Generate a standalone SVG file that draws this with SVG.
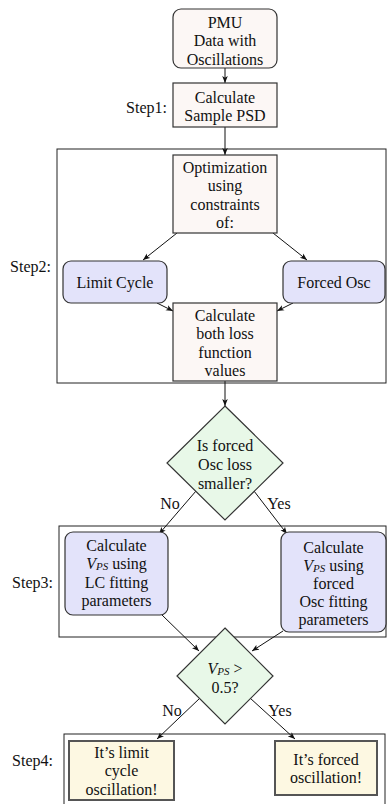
<svg xmlns="http://www.w3.org/2000/svg" width="388" height="804" viewBox="0 0 388 804">
<style>
text{font-family:"Liberation Serif","Times New Roman",serif;font-size:16px;fill:#111;text-anchor:middle;dominant-baseline:central}
.lbl{text-anchor:end}
.frame{fill:none;stroke:#222;stroke-width:1}
.pink{fill:#fcf7f5;stroke:#333;stroke-width:1.2}
.blue{fill:#e3e3fa;stroke:#333;stroke-width:1.2}
.green{fill:#e8f8e8;stroke:#333;stroke-width:1.2}
.yellow{fill:#fdf8e2;stroke:#555;stroke-width:2}
.conn line{stroke:#111;stroke-width:1;marker-end:url(#arr)}
.it{font-style:italic}
.sub{font-style:italic;font-size:11px}
</style>
<defs>
<marker id="arr" viewBox="0 0 10 10" refX="10" refY="5" markerWidth="7" markerHeight="7" orient="auto" markerUnits="userSpaceOnUse">
<path d="M0,1 L10,5 L0,9 L2.5,5 Z" fill="#111"/>
</marker>
</defs>

<g id="frames">
<rect class="frame" x="57" y="149" width="329" height="234"/>
<rect class="frame" x="59" y="526" width="327" height="111"/>
<rect class="frame" x="64" y="734" width="321" height="80"/>
<text class="lbl" x="167" y="107">Step1:</text>
<text class="lbl" x="51" y="266">Step2:</text>
<text class="lbl" x="53" y="582">Step3:</text>
<text class="lbl" x="53" y="760">Step4:</text>
</g>

<g class="conn" id="connectors">
<line x1="225" y1="68" x2="225" y2="83"/>
<line x1="225" y1="127" x2="225" y2="155"/>
<line x1="177" y1="233" x2="143" y2="260"/>
<line x1="273" y1="233" x2="307" y2="260"/>
<line x1="157" y1="303" x2="173" y2="311"/>
<line x1="293" y1="303" x2="277" y2="311"/>
<line x1="225" y1="381" x2="225" y2="406"/>
<line x1="196" y1="491" x2="159" y2="534"/>
<line x1="254" y1="491" x2="287" y2="534"/>
<line x1="162" y1="615" x2="199" y2="651"/>
<line x1="283" y1="631" x2="252" y2="651"/>
<line x1="200" y1="698" x2="157" y2="739"/>
<line x1="250" y1="698" x2="295" y2="739"/>
<text x="170" y="503">No</text>
<text x="279" y="503">Yes</text>
<text x="172" y="710">No</text>
<text x="280" y="710">Yes</text>
</g>

<g id="pmu">
<rect class="pink" x="173" y="9" width="104" height="59" rx="8"/>
<text x="225" y="22">PMU</text>
<text x="225" y="40.5">Data with</text>
<text x="225" y="59">Oscillations</text>
</g>

<g id="psd">
<rect class="pink" x="173" y="83" width="104" height="44"/>
<text x="225" y="97">Calculate</text>
<text x="225" y="115">Sample PSD</text>
</g>

<g id="opt">
<rect class="pink" x="173" y="155" width="104" height="78"/>
<text x="225" y="167">Optimization</text>
<text x="225" y="185.5">using</text>
<text x="225" y="204">constraints</text>
<text x="225" y="222">of:</text>
</g>

<g id="lc">
<rect class="blue" x="63" y="261" width="104" height="42" rx="8"/>
<text x="115" y="282">Limit Cycle</text>
</g>

<g id="fo">
<rect class="blue" x="283" y="261" width="102" height="42" rx="8"/>
<text x="334" y="282">Forced Osc</text>
</g>

<g id="loss">
<rect class="pink" x="173" y="303" width="104" height="78"/>
<text x="225" y="315">Calculate</text>
<text x="225" y="333.5">both loss</text>
<text x="225" y="352">function</text>
<text x="225" y="370">values</text>
</g>

<g id="d1">
<polygon class="green" points="225,406 283,463 225,520 167,463"/>
<text x="225" y="445">Is forced</text>
<text x="225" y="464">Osc loss</text>
<text x="225" y="483">smaller?</text>
</g>

<g id="vlc">
<rect class="blue" x="65" y="532" width="103" height="83" rx="8"/>
<text x="116.5" y="545">Calculate</text>
<text x="116.5" y="563"><tspan class="it">V</tspan><tspan class="sub" dy="3">PS</tspan><tspan dy="-3"> using</tspan></text>
<text x="116.5" y="582">LC fitting</text>
<text x="116.5" y="600">parameters</text>
</g>

<g id="vfo">
<rect class="blue" x="281" y="532" width="105" height="100" rx="8"/>
<text x="333.5" y="547">Calculate</text>
<text x="333.5" y="565"><tspan class="it">V</tspan><tspan class="sub" dy="3">PS</tspan><tspan dy="-3"> using</tspan></text>
<text x="333.5" y="583">forced</text>
<text x="333.5" y="601">Osc fitting</text>
<text x="333.5" y="619">parameters</text>
</g>

<g id="d2">
<polygon class="green" points="225,628 273,676 225,724 177,676"/>
<text x="225" y="668"><tspan class="it">V</tspan><tspan class="sub" dy="3">PS</tspan><tspan dy="-3"> &gt;</tspan></text>
<text x="225" y="687">0.5?</text>
</g>

<g id="lcres">
<rect class="yellow" x="69" y="741" width="105" height="59"/>
<text x="121.5" y="752">It’s limit</text>
<text x="121.5" y="770.5">cycle</text>
<text x="121.5" y="789">oscillation!</text>
</g>

<g id="fores">
<rect class="yellow" x="275" y="741" width="102" height="54"/>
<text x="326" y="759">It’s forced</text>
<text x="326" y="777">oscillation!</text>
</g>
</svg>
